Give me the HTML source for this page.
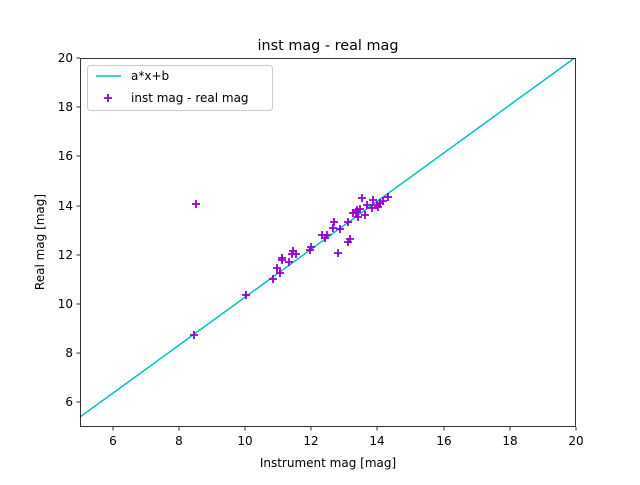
<!DOCTYPE html>
<html><head><style>body{margin:0;background:#fff}svg text{font-family:"DejaVu Sans","Liberation Sans",sans-serif;fill:#000}</style></head><body>
<svg width="640" height="480" xmlns="http://www.w3.org/2000/svg">
<defs><clipPath id="c"><rect x="80" y="58" width="496" height="369"/></clipPath>
<g id="p"><path d="M-4,0H4M0,-4V4" stroke="#9400d3" stroke-width="1.8"/></g></defs>
<text x="328" y="50" font-size="14.4" text-anchor="middle">inst mag - real mag</text>
<line x1="80" y1="417" x2="576" y2="57" stroke="#00bfbf" stroke-width="1.5" clip-path="url(#c)"/>
<g>
<use href="#p" x="362" y="198"/><use href="#p" x="388" y="197"/><use href="#p" x="357" y="210"/><use href="#p" x="353" y="213"/><use href="#p" x="358" y="217"/><use href="#p" x="365" y="215"/><use href="#p" x="373" y="200"/><use href="#p" x="377" y="205"/><use href="#p" x="380" y="203"/><use href="#p" x="378" y="207"/><use href="#p" x="372" y="208"/><use href="#p" x="367" y="205"/><use href="#p" x="356" y="212"/><use href="#p" x="360" y="209"/><use href="#p" x="383" y="201"/>
<use href="#p" x="334" y="222"/><use href="#p" x="333" y="228"/><use href="#p" x="340" y="229"/><use href="#p" x="348" y="222"/><use href="#p" x="322" y="235"/><use href="#p" x="327" y="235"/><use href="#p" x="325" y="238"/><use href="#p" x="348" y="242"/><use href="#p" x="350" y="239"/><use href="#p" x="338" y="253"/><use href="#p" x="311" y="247"/><use href="#p" x="310" y="250"/><use href="#p" x="293" y="251"/><use href="#p" x="296" y="254"/><use href="#p" x="282" y="258"/><use href="#p" x="289" y="262"/><use href="#p" x="277" y="268"/><use href="#p" x="280" y="273"/><use href="#p" x="273" y="279"/><use href="#p" x="282" y="260"/>
<use href="#p" x="292" y="254"/><use href="#p" x="246" y="295"/><use href="#p" x="194" y="335"/><use href="#p" x="196" y="204"/>
</g>
<rect x="80.5" y="58.5" width="495" height="368" fill="none" stroke="#000" stroke-width="0.8"/>
<g stroke="#000" stroke-width="0.8">
<line x1="113" y1="427" x2="113" y2="430.5"/><line x1="179" y1="427" x2="179" y2="430.5"/><line x1="245" y1="427" x2="245" y2="430.5"/><line x1="311" y1="427" x2="311" y2="430.5"/><line x1="377" y1="427" x2="377" y2="430.5"/><line x1="444" y1="427" x2="444" y2="430.5"/><line x1="510" y1="427" x2="510" y2="430.5"/><line x1="576" y1="427" x2="576" y2="430.5"/>
<line x1="76.5" y1="58" x2="80" y2="58"/><line x1="76.5" y1="107" x2="80" y2="107"/><line x1="76.5" y1="156" x2="80" y2="156"/><line x1="76.5" y1="206" x2="80" y2="206"/><line x1="76.5" y1="255" x2="80" y2="255"/><line x1="76.5" y1="304" x2="80" y2="304"/><line x1="76.5" y1="353" x2="80" y2="353"/><line x1="76.5" y1="402" x2="80" y2="402"/>
</g>
<g font-size="12" text-anchor="middle">
<text x="113" y="445">6</text><text x="179" y="445">8</text><text x="245" y="445">10</text><text x="311" y="445">12</text><text x="377" y="445">14</text><text x="444" y="445">16</text><text x="510" y="445">18</text><text x="576" y="445">20</text>
</g>
<g font-size="12" text-anchor="end">
<text x="73" y="62">20</text><text x="73" y="111">18</text><text x="73" y="160">16</text><text x="73" y="210">14</text><text x="73" y="259">12</text><text x="73" y="308">10</text><text x="73" y="357">8</text><text x="73" y="406">6</text>
</g>
<text x="328" y="467" font-size="12" text-anchor="middle">Instrument mag [mag]</text>
<text transform="translate(44,242) rotate(-90)" font-size="12" text-anchor="middle">Real mag [mag]</text>
<rect x="87.5" y="65.5" width="185" height="45" rx="3" fill="#fff" stroke="#ccc"/>
<line x1="96" y1="76" x2="121" y2="76" stroke="#00bfbf" stroke-width="1.5"/>
<text x="131" y="80" font-size="12">a*x+b</text>
<use href="#p" x="108" y="98"/>
<text x="131" y="102" font-size="12">inst mag - real mag</text>
</svg>
</body></html>
